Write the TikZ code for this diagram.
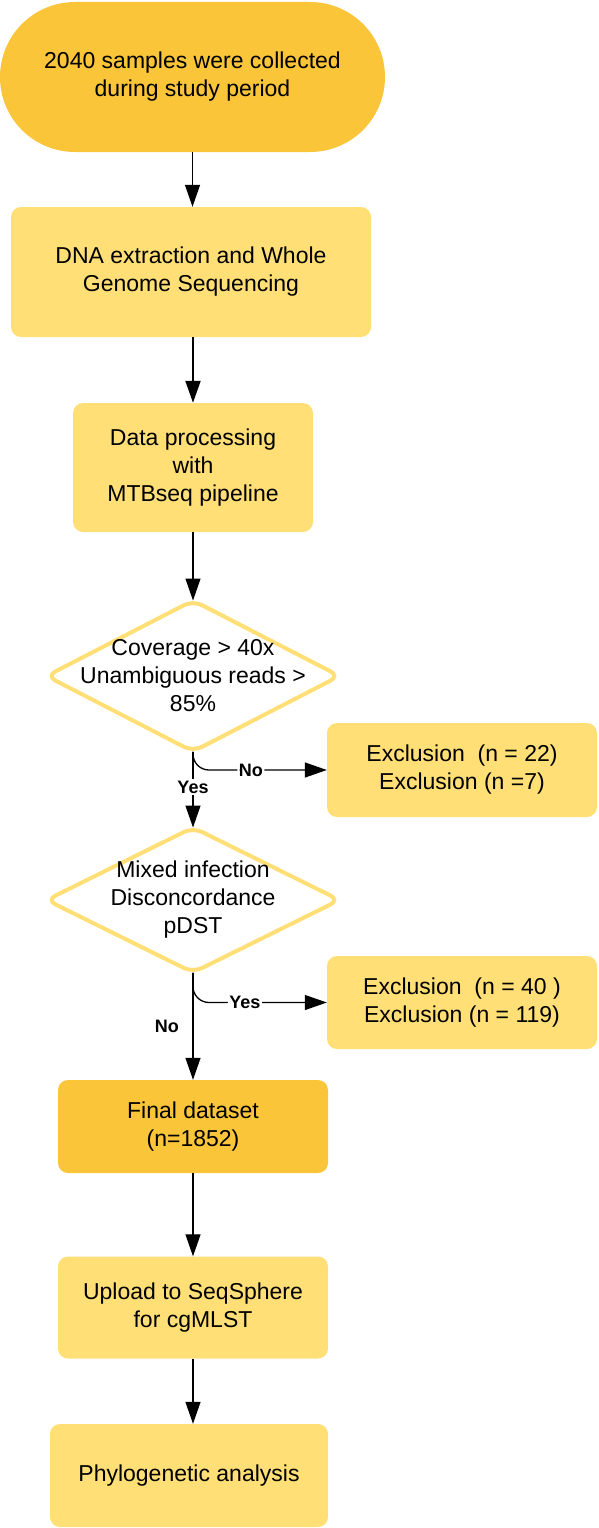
\documentclass[tikz,border=0pt]{standalone}
\usepackage{fontspec}
\setmainfont{Liberation Sans}
\usetikzlibrary{shapes.geometric,arrows.meta}
\definecolor{darkY}{RGB}{251,197,58}
\definecolor{lightY}{RGB}{255,223,118}
\begin{document}
\begin{tikzpicture}[x=1pt,y=-1pt,
  txt/.style={align=center, inner sep=0pt, font=\fontsize{23}{28}\selectfont},
  box/.style={txt, rectangle, rounded corners=10pt, fill=lightY},
  dbox/.style={txt, rectangle, rounded corners=10pt, fill=darkY},
  dia/.style={diamond, draw=lightY, line width=4pt, fill=white, rounded corners=10pt, inner sep=0pt, outer sep=0pt},
  arr/.style={draw=black, line width=1.3pt, -{Triangle[length=22pt,width=15pt]}},
  lab/.style={fill=white, inner sep=1.5pt, font=\bfseries\fontsize{18}{20}\selectfont}]
\useasboundingbox (0,0) rectangle (598,1528);
\node[dbox, rounded corners=75pt, minimum width=385pt, minimum height=150pt] (start) at (192.5,77) {2040 samples were collected\\during study period};
\node[box, minimum width=360pt, minimum height=130pt] (dna) at (191,272) {DNA extraction and Whole\\Genome Sequencing};
\node[box, minimum width=240pt, minimum height=129pt] (proc) at (193,467.5) {Data processing\\with\\ MTBseq pipeline};
\node[dia, minimum width=293pt, minimum height=151pt] (d1) at (193,676) {};
\node[txt] (d1t) at (d1) {Coverage > 40x\\Unambiguous reads >\\85\%};
\node[box, minimum width=270pt, minimum height=94pt] (ex1) at (462,770) {Exclusion \ (n = 22)\\Exclusion (n =7)};
\node[dia, minimum width=293pt, minimum height=145pt] (d2) at (193,900) {};
\node[txt] (d2t) at (d2) {Mixed infection\\Disconcordance\\pDST};
\node[box, minimum width=270pt, minimum height=93pt] (ex2) at (462,1002.5) {Exclusion \ (n = 40 )\\Exclusion (n = 119)};
\node[dbox, minimum width=270pt, minimum height=93pt] (final) at (193,1126.5) {Final dataset\\(n=1852)};
\node[box, minimum width=270pt, minimum height=102pt] (upload) at (193,1307.5) {Upload to SeqSphere\\for cgMLST};
\node[box, minimum width=278pt, minimum height=103pt] (phylo) at (189,1475.5) {Phylogenetic analysis};

\draw[arr] (start.south) -- (start.south |- dna.north);
\draw[arr, line width=2pt] (proc.north |- dna.south) -- (proc.north);
\draw[arr] (proc.south) -- (d1.north);
\draw[arr, rounded corners=16pt] (d1.south) |- (ex1.west) node[lab, pos=0.716] {No};
\draw[arr] (d1.south) -- (d2.north) node[lab, pos=0.47] {Yes};
\draw[arr, rounded corners=16pt] (d2.south) |- (ex2.west) node[lab, pos=0.694] {Yes};
\draw[arr] (d2.south) -- (final.north) node[lab, pos=0.5, anchor=east, xshift=-12pt, fill=none] {No};
\draw[arr] (final.south) -- (upload.north);
\draw[arr] (upload.south) -- (upload.south |- phylo.north);
\end{tikzpicture}
\end{document}
